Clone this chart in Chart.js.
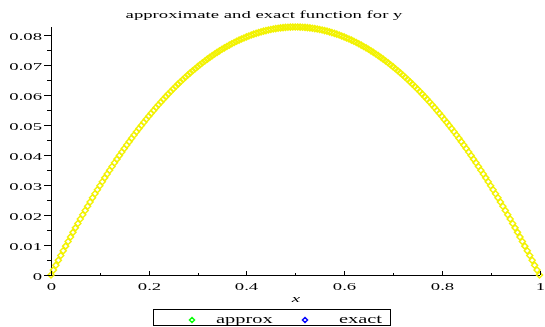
<!DOCTYPE html>
<html>
<head>
<meta charset="utf-8">
<script src="https://cdn.jsdelivr.net/npm/chart.js@4"></script>
<style>
html,body{margin:0;padding:0;background:#fff;}
#wrap{width:545px;height:327px;position:relative;}
</style>
</head>
<body>
<div id="wrap"><canvas id="c" width="545" height="327"></canvas></div>
<script>
const titleText = "approximate and exact function for y";
const xAxisLabel = "x";
const seriesNames = ["approx", "exact"];
const legendColors = ["#00ff00", "#0000ff"];

const xApprox = [0,0.01,0.02,0.03,0.04,0.05,0.06,0.07,0.08,0.09,0.1,0.11,0.12,0.13,0.14,0.15,0.16,0.17,0.18,0.19,0.2,0.21,0.22,0.23,0.24,0.25,0.26,0.27,0.28,0.29,0.3,0.31,0.32,0.33,0.34,0.35,0.36,0.37,0.38,0.39,0.4,0.41,0.42,0.43,0.44,0.45,0.46,0.47,0.48,0.49,0.5,0.51,0.52,0.53,0.54,0.55,0.56,0.57,0.58,0.59,0.6,0.61,0.62,0.63,0.64,0.65,0.66,0.67,0.68,0.69,0.7,0.71,0.72,0.73,0.74,0.75,0.76,0.77,0.78,0.79,0.8,0.81,0.82,0.83,0.84,0.85,0.86,0.87,0.88,0.89,0.9,0.91,0.92,0.93,0.94,0.95,0.96,0.97,0.98,0.99,1];
const yApprox = [0,.00327,.00647,.0096,.01267,.01568,.01861,.02148,.02429,.02703,.0297,.03231,.03485,.03732,.03973,.04208,.04435,.04656,.04871,.05079,.0528,.05475,.05663,.05844,.06019,.06188,.06349,.06504,.06653,.06795,.0693,.07059,.07181,.07296,.07405,.07508,.07603,.07692,.07775,.07851,.0792,.07983,.08039,.08088,.08131,.08168,.08197,.0822,.08237,.08247,.0825,
.08247,.08237,.0822,.08197,.08168,.08131,.08088,.08039,.07983,.0792,.07851,.07775,.07692,.07603,.07508,.07405,.07296,.07181,.07059,.0693,.06795,.06653,.06504,.06349,.06188,.06019,.05844,.05663,.05475,.0528,.05079,.04871,.04656,.04435,.04208,.03973,.03732,.03485,.03231,.0297,.02703,.02429,.02148,.01861,.01568,.01267,.0096,.00647,.00327,0];

const xExact = [0.005,0.015,0.025,0.035,0.045,0.055,0.065,0.075,0.085,0.095,0.105,0.115,0.125,0.135,0.145,0.155,0.165,0.175,0.185,0.195,0.205,0.215,0.225,0.235,0.245,0.255,0.265,0.275,0.285,0.295,0.305,0.315,0.325,0.335,0.345,0.355,0.365,0.375,0.385,0.395,0.405,0.415,0.425,0.435,0.445,0.455,0.465,0.475,0.485,0.495,0.505,0.515,0.525,0.535,0.545,0.555,0.565,0.575,0.585,0.595,0.605,0.615,0.625,0.635,0.645,0.655,0.665,0.675,0.685,0.695,0.705,0.715,0.725,0.735,0.745,0.755,0.765,0.775,0.785,0.795,0.805,0.815,0.825,0.835,0.845,0.855,0.865,0.875,0.885,0.895,0.905,0.915,0.925,0.935,0.945,0.955,0.965,0.975,0.985,0.995];
const yExact = [.00164,.00488,.00804,.01115,.01418,.01715,.02006,.02289,.02567,.02837,.03101,.03359,.03609,.03854,.04091,.04322,.04547,.04764,.04976,.0518,.05378,.0557,.05754,.05933,.06104,.06269,.06428,.06579,.06725,.06863,.06995,.07121,.07239,.07352,.07457,.07556,.07649,.07734,.07814,.07886,.07952,.08012,.08064,.08111,.0815,.08183,.0821,.08229,.08243,.08249,
.08249,.08243,.08229,.0821,.08183,.0815,.08111,.08064,.08012,.07952,.07886,.07814,.07734,.07649,.07556,.07457,.07352,.07239,.07121,.06995,.06863,.06725,.06579,.06428,.06269,.06104,.05933,.05754,.0557,.05378,.05176,.04976,.04764,.04547,.04322,.04091,.03854,.03609,.03359,.03101,.02837,.02567,.02289,.02006,.01715,.01418,.01115,.00804,.00488,.00164];

const yMajorTicks = [0,0.01,0.02,0.03,0.04,0.05,0.06,0.07,0.08];
const yMajorLabels = ["0","0.01","0.02","0.03","0.04","0.05","0.06","0.07","0.08"];
const yMinorTicks = [0.005,0.015,0.025,0.035,0.045,0.055,0.065,0.075];
const xMajorTicks = [0,0.2,0.4,0.6,0.8,1];
const xMajorLabels = ["0","0.2","0.4","0.6","0.8","1"];
const xMinorTicks = [0.1,0.3,0.5,0.7,0.9];

const FONT = '11px "Liberation Serif", "DejaVu Serif", serif';
const LEGEND_FONT = '12px "Liberation Serif", "DejaVu Serif", serif';
const SX = 1.7;

function stretchText(ctx, text, x, y, align, font) {
  ctx.save();
  ctx.font = font || FONT;
  ctx.textBaseline = 'alphabetic';
  const w = ctx.measureText(text).width * SX;
  let left = x;
  if (align === 'center') left = x - w / 2;
  else if (align === 'right') left = x - w;
  ctx.translate(left, y);
  ctx.scale(SX, 1);
  ctx.textAlign = 'left';
  ctx.fillStyle = '#000';
  ctx.fillText(text, 0, 0);
  ctx.restore();
}

function diamond(ctx, cx, cy, r, color) {
  ctx.save();
  ctx.strokeStyle = color;
  ctx.lineWidth = 1.5;
  ctx.beginPath();
  ctx.moveTo(cx, cy - r);
  ctx.lineTo(cx + r, cy);
  ctx.lineTo(cx, cy + r);
  ctx.lineTo(cx - r, cy);
  ctx.closePath();
  ctx.stroke();
  ctx.restore();
}

const decor = {
  id: 'decor',
  afterDraw(chart) {
    const ctx = chart.ctx;
    const xs = chart.scales.x, ys = chart.scales.y;
    const L = chart.chartArea.left, B = chart.chartArea.bottom;
    ctx.save();
    ctx.strokeStyle = '#000';
    ctx.lineWidth = 1;
    yMajorTicks.forEach((v, i) => {
      const py = Math.round(ys.getPixelForValue(v)) + 0.5;
      ctx.beginPath(); ctx.moveTo(L - 7, py); ctx.lineTo(L, py); ctx.stroke();
      stretchText(ctx, yMajorLabels[i], L - 9, py + 4, 'right');
    });
    yMinorTicks.forEach(v => {
      const py = Math.round(ys.getPixelForValue(v)) + 0.5;
      ctx.beginPath(); ctx.moveTo(L - 4, py); ctx.lineTo(L, py); ctx.stroke();
    });
    xMajorTicks.forEach((v, i) => {
      const px = Math.round(xs.getPixelForValue(v)) + 0.5;
      ctx.beginPath(); ctx.moveTo(px, B); ctx.lineTo(px, B - 4); ctx.stroke();
      stretchText(ctx, xMajorLabels[i], px, B + 15, 'center');
    });
    xMinorTicks.forEach(v => {
      const px = Math.round(xs.getPixelForValue(v)) + 0.5;
      ctx.beginPath(); ctx.moveTo(px, B); ctx.lineTo(px, B - 2); ctx.stroke();
    });
    stretchText(ctx, titleText, 264, 18, 'center');
    stretchText(ctx, xAxisLabel, 296, 302, 'center', 'italic 11px "Liberation Serif", serif');
    ctx.strokeStyle = '#000';
    ctx.lineWidth = 1;
    ctx.strokeRect(153.5, 309.5, 237, 16);
    diamond(ctx, 192, 320, 2.5, legendColors[0]);
    stretchText(ctx, chart.data.datasets[0].label, 216, 323, 'left', LEGEND_FONT);
    diamond(ctx, 305, 320, 2.5, legendColors[1]);
    stretchText(ctx, chart.data.datasets[1].label, 339, 323, 'left', LEGEND_FONT);
    ctx.restore();
  }
};

const toPts = (xa, ya) => xa.map((x, i) => ({x: x, y: ya[i]}));

new Chart(document.getElementById('c'), {
  type: 'scatter',
  data: {
    datasets: [
      {label: seriesNames[0], data: toPts(xApprox, yApprox), pointStyle: 'rectRot', pointRadius: 3,
       backgroundColor: 'rgba(0,0,0,0)', borderColor: '#f2f200', pointBorderWidth: 1.5, clip: false},
      {label: seriesNames[1], data: toPts(xExact, yExact), pointStyle: 'rectRot', pointRadius: 3,
       backgroundColor: 'rgba(0,0,0,0)', borderColor: '#f2f200', pointBorderWidth: 1.5, clip: false}
    ]
  },
  options: {
    responsive: false,
    animation: false,
    devicePixelRatio: 1,
    layout: {padding: {left: 51, right: 1, top: 27, bottom: 52}},
    plugins: {legend: {display: false}, title: {display: false}, tooltip: {enabled: false}},
    scales: {
      x: {type: 'linear', min: 0, max: 1,
          ticks: {display: false}, grid: {display: false, drawTicks: false},
          border: {display: true, color: '#000', width: 1}},
      y: {type: 'linear', min: 0, max: 0.0825,
          ticks: {display: false}, grid: {display: false, drawTicks: false},
          border: {display: true, color: '#000', width: 1}}
    }
  },
  plugins: [decor]
});
</script>
</body>
</html>
